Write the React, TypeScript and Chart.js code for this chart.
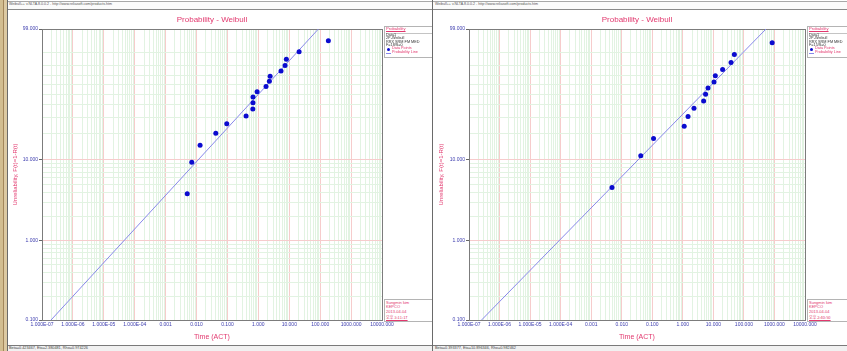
import React, { useEffect, useRef } from 'react';
import { Chart, registerables } from 'chart.js';

Chart.register(...registerables);

// Data1, left window: 18 failures, no suspensions (times in ACT, median ranks in %)
const timesA = [0.005, 0.007, 0.013, 0.042, 0.095, 0.4, 0.66, 0.67, 0.67, 0.91, 1.77, 2.27, 2.4, 5.4, 7.3, 8.05, 20.8, 184];
const unrelA = [3.8, 9.24, 14.67, 20.11, 25.54, 30.98, 36.41, 41.85, 47.28, 52.72, 58.15, 63.59, 69.02, 74.46, 79.89, 85.33, 90.76, 96.2];
const fitA = [0.423467, 2.380481, 0.974226]; // beta, eta, rho

// Data1, right window: 15 failures, no suspensions
const timesB = [0.0048, 0.042, 0.11, 1.11, 1.48, 2.32, 4.79, 5.57, 6.68, 10.5, 11.6, 20.1, 37.9, 48.7, 841];
const unrelB = [4.55, 11.04, 17.53, 24.03, 30.52, 37.01, 43.51, 50.0, 56.49, 62.99, 69.48, 75.97, 82.47, 88.96, 95.45];
const fitB = [0.393377, 10.896346, 0.982462];

// Axis decades and labels
const timeDecades = [1e-7, 1e-6, 1e-5, 1e-4, 1e-3, 1e-2, 1e-1, 1, 10, 100, 1000, 10000];
const timeLabels = ['1.000E-07', '1.000E-06', '1.000E-05', '1.000E-04', '0.001', '0.010', '0.100', '1.000', '10.000', '100.000', '1000.000', '10000.000'];
const unrelGrid = [0.1, 0.2, 0.3, 0.4, 0.5, 0.6, 0.7, 0.8, 0.9, 1, 2, 3, 4, 5, 6, 7, 8, 9, 10, 20, 30, 40, 50, 60, 70, 80, 90, 99];
const unrelMajor = [0.1, 1, 10, 99];
const unrelLabels = ['0.100', '1.000', '10.000', '99.000'];

const PINK = '#e2386e';
const TICK_BLUE = '#3c3cae';
const DOT_BLUE = '#0b0bcf';
const LINE_BLUE = '#8888ea';
const GRID_MAJOR = '#f6cccc';
const GRID_MINOR = '#e2f3e2';
const FONT = '"Liberation Sans", Arial, sans-serif';

// Weibull probability paper: y = ln(-ln(1 - F))
const wb = (pct: number) => Math.log(-Math.log(1 - pct / 100));
const timeAt = (pct: number, beta: number, eta: number) => eta * Math.pow(-Math.log(1 - pct / 100), 1 / beta);

const CANVAS_TOP = 9;
const CANVAS_H = 336;
const AREA_TOP = 20;
const AREA_BOTTOM = 311;

const framePlugin = {
  id: 'plotFrame',
  beforeDatasetsDraw(chart: any) {
    const { ctx, chartArea: a } = chart;
    ctx.save();
    ctx.strokeStyle = '#7c7c7c';
    ctx.lineWidth = 1;
    ctx.strokeRect(Math.round(a.left) + 0.5, Math.round(a.top) + 0.5, Math.round(a.right) - Math.round(a.left), Math.round(a.bottom) - Math.round(a.top));
    ctx.restore();
  },
};

type PanelProps = {
  x: number;
  w: number;
  plotL: number;
  plotR: number;
  times: number[];
  unrel: number[];
  fit: number[];
  counts: string;
  clock: string;
  leftFrame: boolean;
};

function WeibullPanel(p: PanelProps) {
  const ref = useRef<HTMLCanvasElement>(null);

  useEffect(() => {
    const [beta, eta] = p.fit;
    const points = p.times.map((t, i) => ({ x: t, y: wb(p.unrel[i]) }));
    const lineEnds = [0.1, 99].map((f) => ({ x: timeAt(f, beta, eta), y: wb(f) }));

    const xTicks: any[] = [];
    timeDecades.forEach((d, k) => {
      const last = k === timeDecades.length - 1;
      for (let m = 1; m <= (last ? 1 : 9); m++) {
        xTicks.push({ value: m * d, major: m === 1, lab: m === 1 ? timeLabels[k] : '' });
      }
    });
    const yTicks = unrelGrid.map((f) => {
      const j = unrelMajor.indexOf(f);
      return { value: wb(f), major: j >= 0, lab: j >= 0 ? unrelLabels[j] : '' };
    });

    const chart = new Chart(ref.current as HTMLCanvasElement, {
      type: 'scatter',
      data: {
        datasets: [
          {
            label: 'Data Points',
            data: points,
            pointRadius: 2.5,
            pointBackgroundColor: DOT_BLUE,
            pointBorderColor: DOT_BLUE,
            pointBorderWidth: 0,
          },
          {
            label: 'Probability Line',
            data: lineEnds,
            showLine: true,
            borderColor: LINE_BLUE,
            borderWidth: 1,
            pointRadius: 0,
          },
        ],
      },
      options: {
        animation: false,
        responsive: false,
        devicePixelRatio: 1,
        layout: { padding: { top: AREA_TOP, left: 0, bottom: 0, right: p.w - p.plotR } },
        plugins: { legend: { display: false }, tooltip: { enabled: false }, title: { display: false } },
        scales: {
          x: {
            type: 'logarithmic',
            min: 1e-7,
            max: 1e4,
            afterBuildTicks: (s: any) => {
              s.ticks = xTicks.map((t) => ({ ...t }));
            },
            afterFit: (s: any) => {
              s.height = CANVAS_H - AREA_BOTTOM;
            },
            border: { display: false },
            grid: {
              drawTicks: false,
              color: (c: any) => (c.tick && c.tick.major ? GRID_MAJOR : GRID_MINOR),
            },
            ticks: {
              autoSkip: false,
              maxRotation: 0,
              minRotation: 0,
              padding: 2,
              color: TICK_BLUE,
              font: { family: FONT, size: 5 },
              callback: (_v: any, i: number) => xTicks[i].lab,
            },
            title: {
              display: true,
              text: 'Time (ACT)',
              color: PINK,
              font: { family: FONT, size: 7 },
              padding: { top: 0, bottom: 4 },
            },
          },
          y: {
            type: 'linear',
            min: wb(0.1),
            max: wb(99),
            afterBuildTicks: (s: any) => {
              s.ticks = yTicks.map((t) => ({ ...t }));
            },
            afterFit: (s: any) => {
              s.width = p.plotL;
            },
            border: { display: false },
            grid: {
              tickLength: 3,
              color: (c: any) => (c.tick && c.tick.major ? GRID_MAJOR : GRID_MINOR),
              tickColor: (c: any) => (c.tick && c.tick.major ? '#666666' : 'rgba(0,0,0,0)'),
            },
            ticks: {
              autoSkip: false,
              padding: 1,
              color: TICK_BLUE,
              font: { family: FONT, size: 5 },
              callback: (_v: any, i: number) => yTicks[i].lab,
            },
            title: {
              display: true,
              text: 'Unreliability, F(t)=1-R(t)',
              color: PINK,
              font: { family: FONT, size: 6 },
              padding: { top: p.leftFrame ? 12 : 6, bottom: 0 },
            },
          },
        },
      },
      plugins: [framePlugin],
    } as any);
    return () => chart.destroy();
  }, []);

  const [beta, eta, rho] = p.fit;
  const cx = (p.plotL + p.plotR) / 2;
  const lx = p.plotR + 4;
  const small = (size: number, color: string, extra: any = {}) => ({
    position: 'absolute' as const,
    whiteSpace: 'nowrap' as const,
    font: `${size}px ${FONT}`,
    lineHeight: 1,
    color,
    ...extra,
  });

  return (
    <div style={{ position: 'absolute', left: p.x, top: 0, width: p.w, height: 351, overflow: 'hidden', background: '#ffffff' }}>
      <canvas ref={ref} width={p.w} height={CANVAS_H} style={{ position: 'absolute', left: 0, top: CANVAS_TOP, width: p.w, height: CANVAS_H }} />

      {/* window caption strip */}
      <div style={{ position: 'absolute', left: 0, top: 1, width: p.w, height: 7, borderTop: '1px solid #a8a8a8', borderBottom: '1px solid #8a8a8a', background: '#fbfbfb' }} />
      <div style={small(3.6, '#555555', { left: p.leftFrame ? 9 : 3, top: 3 })}>Weibull++ v.NLTA.8.0.0.2 - http://www.reliasoft.com/products.htm</div>

      {/* chart title */}
      <div style={small(8, PINK, { left: cx, top: 19.5, transform: 'translate(-50%, -50%)' })}>Probability - Weibull</div>

      {/* legend block */}
      <div style={{ position: 'absolute', left: lx - 2, top: 26, width: 60, height: 30, border: '1px solid #b4b4b4', background: '#ffffff' }} />
      <div style={small(4.2, PINK, { left: lx, top: 27, textDecoration: 'underline' })}>Probability</div>
      <div style={{ position: 'absolute', left: lx, top: 32.5, width: 60, height: 0, borderTop: '1px solid #c4c4c4' }} />
      <div style={small(3.8, '#333333', { left: lx, top: 34.2 })}>Data1</div>
      <div style={small(3.8, '#333333', { left: lx, top: 37.4 })}>2P-Weibull</div>
      <div style={small(3.8, '#333333', { left: lx, top: 40.6 })}>RRX SRM FM MED</div>
      <div style={small(3.8, '#333333', { left: lx, top: 43.8 })}>{p.counts}</div>
      <div style={{ position: 'absolute', left: lx + 1, top: 48, width: 3, height: 3, borderRadius: 2, background: DOT_BLUE }} />
      <div style={small(3.8, PINK, { left: lx + 6, top: 47.4 })}>Data Points</div>
      <div style={{ position: 'absolute', left: lx, top: 52.5, width: 5, height: 0, borderTop: `1px solid ${LINE_BLUE}` }} />
      <div style={small(3.8, PINK, { left: lx + 6, top: 50.8 })}>Probability Line</div>

      {/* user / time stamp block */}
      <div style={{ position: 'absolute', left: lx - 2, top: 299, width: 60, height: 21, border: '1px solid #b4b4b4', background: '#ffffff' }} />
      <div style={small(4, PINK, { left: lx, top: 301 })}>Sungmin kim</div>
      <div style={small(4, PINK, { left: lx, top: 305 })}>KEPCO</div>
      <div style={small(4, PINK, { left: lx, top: 310 })}>2013-04-04</div>
      <div style={small(4, PINK, { left: lx, top: 314.5, fontFamily: '"Noto Sans CJK KR", ' + FONT, textDecoration: 'underline' })}>{p.clock}</div>

      {/* status bar */}
      <div style={{ position: 'absolute', left: 0, top: 345, width: p.w, height: 6, borderTop: '1px solid #7a7a7a', background: '#f1f1f1' }} />
      <div style={small(3.8, '#444444', { left: p.leftFrame ? 9 : 3, top: 347.3 })}>{`Beta=${beta}, Eta=${eta}, Rho=${rho}`}</div>

      {p.leftFrame ? (
        <div style={{ position: 'absolute', left: 0, top: 0, width: 8, height: 351, background: 'linear-gradient(to right, #d2bd90 0px, #d2bd90 3px, #a3865a 3px, #a3865a 4px, #dcc9a2 4px, #dcc9a2 7px, #6a6a6a 7px, #6a6a6a 8px)' }} />
      ) : (
        <div style={{ position: 'absolute', left: 0, top: 0, width: 1, height: 351, background: '#6a6a6a' }} />
      )}
    </div>
  );
}

export default function App() {
  return (
    <div style={{ position: 'fixed', left: 0, top: 0, width: 847, height: 351, overflow: 'hidden', background: '#ffffff' }}>
      <WeibullPanel x={0} w={432} plotL={42} plotR={382} times={timesA} unrel={unrelA} fit={fitA} counts="F=18/S=0" clock="오후 3:11:17" leftFrame={true} />
      <WeibullPanel x={432} w={415} plotL={37} plotR={373} times={timesB} unrel={unrelB} fit={fitB} counts="F=15/S=0" clock="오후 2:40:50" leftFrame={false} />
    </div>
  );
}
